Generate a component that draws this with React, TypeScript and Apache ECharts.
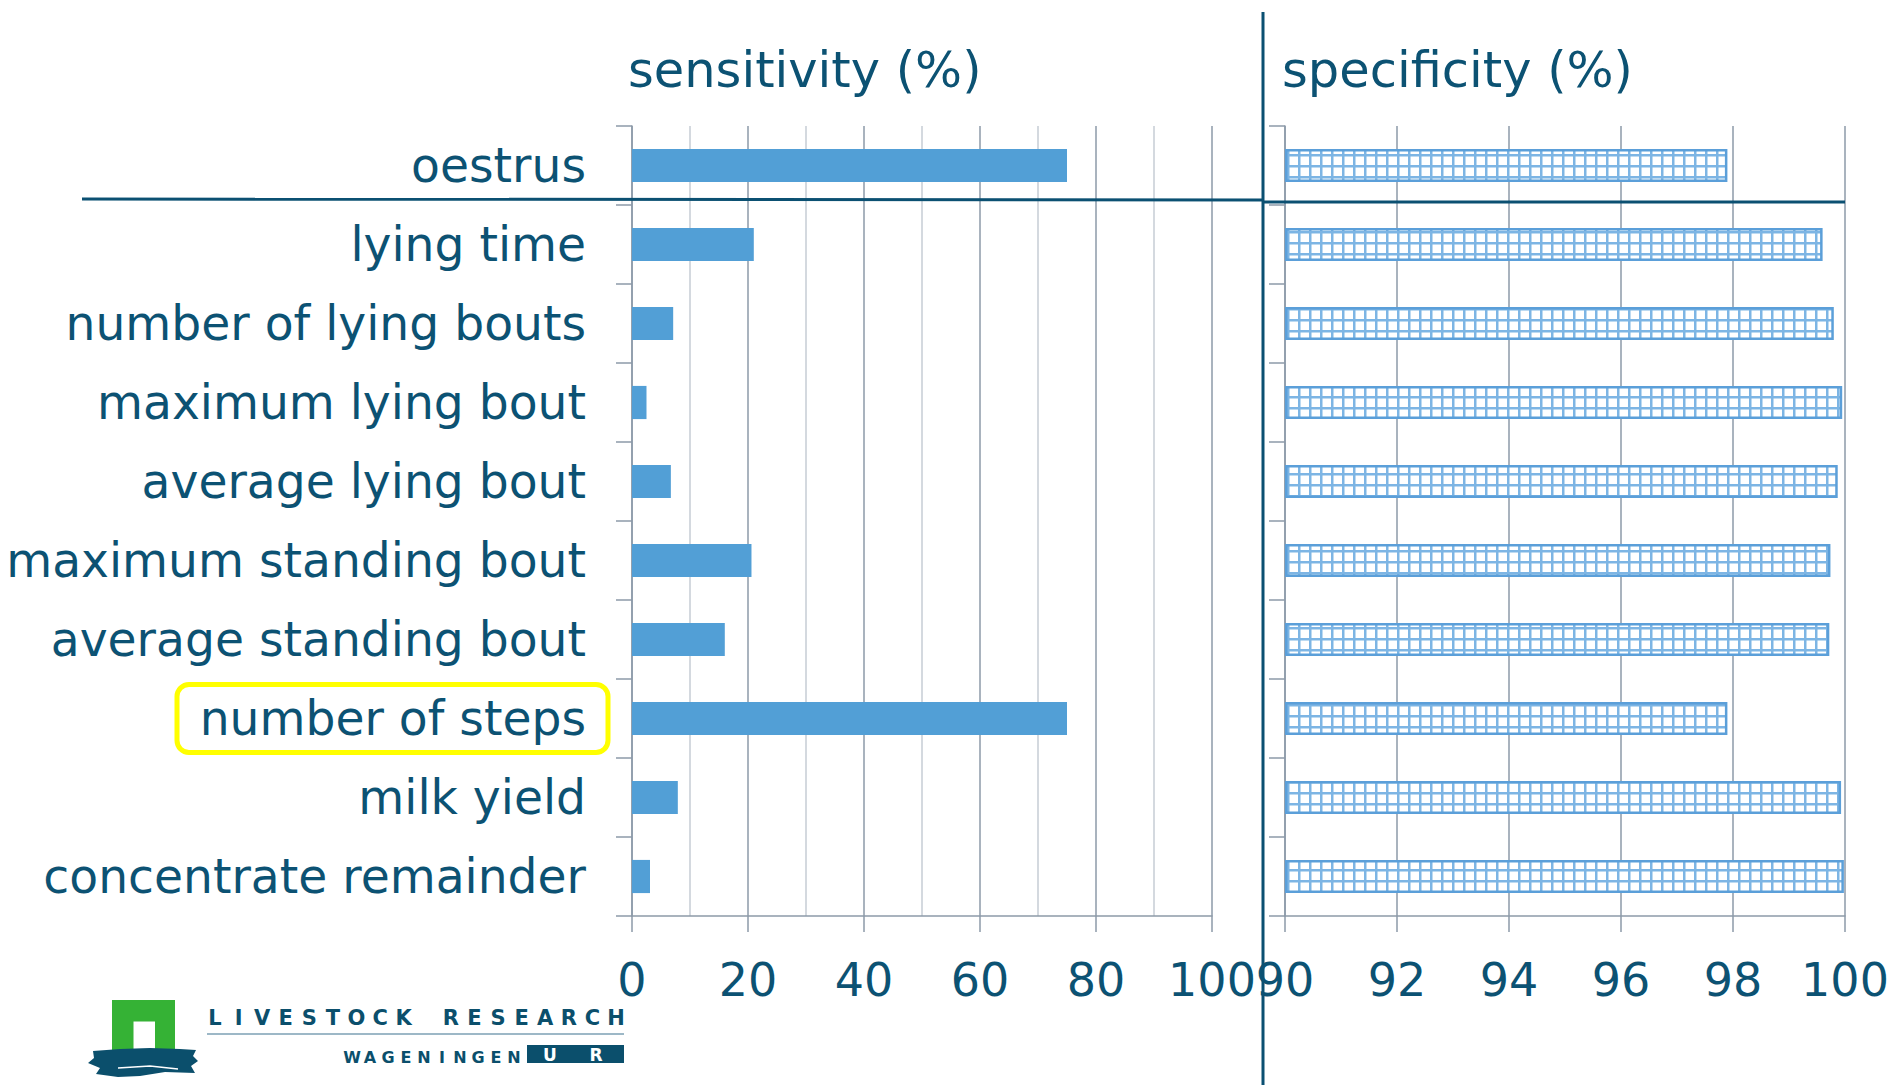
import React, { useEffect, useRef } from 'react';
import * as echarts from 'echarts';

const categories = [
  'oestrus',
  'lying time',
  'number of lying bouts',
  'maximum lying bout',
  'average lying bout',
  'maximum standing bout',
  'average standing bout',
  'number of steps',
  'milk yield',
  'concentrate remainder',
];
const sensitivity = [75, 21, 7.1, 2.5, 6.7, 20.6, 16, 75, 7.9, 3.1];
const specificity = [97.9, 99.6, 99.8, 99.95, 99.87, 99.74, 99.72, 97.9, 99.93, 99.98];
const sensitivityTicks = [0, 20, 40, 60, 80, 100];
const specificityTicks = [90, 92, 94, 96, 98, 100];
const titles = ['sensitivity (%)', 'specificity (%)'];
const highlighted = 'number of steps';

const TEXT = '#0c5273';
const GRAY = '#8d9aa8';
const LIGHT = '#c6cdd5';
const DARK = '#0b5072';
const FONT = 'DejaVu Sans';

function makePattern() {
  const c = document.createElement('canvas');
  c.width = 11;
  c.height = 11;
  const ctx = c.getContext('2d')!;
  ctx.fillStyle = '#ffffff';
  ctx.fillRect(0, 0, 11, 11);
  ctx.fillStyle = '#7db5e4';
  ctx.fillRect(0, 0, 11, 2.5);
  ctx.fillRect(0, 0, 2.5, 11);
  return c;
}

function spacedText(str: string, x0: number, x1: number, y: number, size: number, color: string, weight = 'normal') {
  const chars = str.split('');
  const n = chars.length;
  const pitch = (x1 - x0) / (n - 1);
  return chars
    .map((ch, i) => ({ ch, i }))
    .filter((o) => o.ch !== ' ')
    .map((o) => ({
      type: 'text',
      x: x0 + o.i * pitch,
      y,
      z: 20,
      style: {
        text: o.ch,
        fill: color,
        font: `${weight} ${size}px "${FONT}"`,
        textAlign: 'center',
        textVerticalAlign: 'middle',
      },
    }));
}

export default function App() {
  const ref = useRef<HTMLDivElement>(null);
  useEffect(() => {
    if (!ref.current) return;
    const chart = echarts.init(ref.current, undefined, { renderer: 'svg' });
    const sMin = sensitivityTicks[0];
    const sMax = sensitivityTicks[sensitivityTicks.length - 1];
    const sInt = sensitivityTicks[1] - sensitivityTicks[0];
    const pMin = specificityTicks[0];
    const pMax = specificityTicks[specificityTicks.length - 1];
    const pInt = specificityTicks[1] - specificityTicks[0];

    const rowH = 790 / categories.length;
    const hiIdx = categories.indexOf(highlighted);
    const hiY = 126 + rowH * (hiIdx + 0.5);

    const catAxisBase = {
      type: 'category',
      data: categories,
      inverse: true,
      axisLine: { show: true, lineStyle: { color: GRAY, width: 1.5 } },
      axisTick: { show: true, length: 16, lineStyle: { color: GRAY, width: 1.5 } },
      splitLine: { show: false },
    };
    const valAxisBase = {
      type: 'value',
      position: 'bottom',
      axisLine: { show: true, lineStyle: { color: GRAY, width: 1.5 } },
      axisTick: { show: true, length: 16, lineStyle: { color: GRAY, width: 1.5 } },
      splitLine: { show: true, lineStyle: { color: GRAY, width: 1.5 } },
    };
    const labelBase = {
      fontSize: 46,
      color: TEXT,
      fontFamily: FONT,
      margin: 41,
      showMinLabel: true,
      showMaxLabel: true,
      hideOverlap: false,
    };

    chart.setOption({
      animation: false,
      backgroundColor: '#ffffff',
      grid: [
        { left: 632, top: 126, width: 580, height: 790, outerBoundsMode: 'none', containLabel: false },
        { left: 1285, top: 126, width: 560, height: 790, outerBoundsMode: 'none', containLabel: false },
      ],
      yAxis: [
        {
          ...catAxisBase,
          gridIndex: 0,
          axisLabel: { fontSize: 47.2, color: TEXT, fontFamily: FONT, margin: 46 },
        },
        { ...catAxisBase, gridIndex: 1, axisLabel: { show: false } },
      ],
      xAxis: [
        {
          ...valAxisBase,
          gridIndex: 0,
          min: sMin,
          max: sMax,
          interval: sInt,
          minorTick: { show: false, splitNumber: 2 },
          minorSplitLine: { show: true, lineStyle: { color: LIGHT, width: 1.5 } },
          axisLabel: { ...labelBase },
        },
        {
          ...valAxisBase,
          gridIndex: 1,
          min: 0,
          max: pMax - pMin,
          interval: pInt,
          axisLabel: { ...labelBase, formatter: (v: number) => String(Math.round(v + pMin)) },
        },
      ],
      series: [
        {
          type: 'bar',
          xAxisIndex: 0,
          yAxisIndex: 0,
          data: sensitivity,
          barWidth: '42%',
          itemStyle: { color: '#529fd6' },
          z: 3,
        },
        {
          type: 'bar',
          xAxisIndex: 1,
          yAxisIndex: 1,
          data: specificity.map((v) => v - pMin),
          barWidth: '42%',
          itemStyle: {
            color: { image: makePattern(), repeat: 'repeat' },
            borderColor: '#5b9fd9',
            borderWidth: 2.5,
          },
          z: 3,
        },
      ],
      graphic: [
        {
          type: 'text',
          x: 628,
          y: 70,
          z: 20,
          style: { text: titles[0], fill: TEXT, font: `49.5px "${FONT}"`, textVerticalAlign: 'middle' },
        },
        {
          type: 'text',
          x: 1282,
          y: 70,
          z: 20,
          style: { text: titles[1], fill: TEXT, font: `49.5px "${FONT}"`, textVerticalAlign: 'middle' },
        },
        {
          type: 'line',
          z: 30,
          shape: { x1: 82, y1: 199, x2: 1263, y2: 200 },
          style: { stroke: DARK, lineWidth: 3 },
        },
        {
          type: 'line',
          z: 30,
          shape: { x1: 1263, y1: 202, x2: 1845, y2: 202 },
          style: { stroke: DARK, lineWidth: 3 },
        },
        {
          type: 'line',
          z: 30,
          shape: { x1: 1263, y1: 12, x2: 1263, y2: 1085 },
          style: { stroke: DARK, lineWidth: 3 },
        },
        {
          type: 'rect',
          z: 30,
          shape: { x: 177, y: hiY - 34, width: 431, height: 68, r: 12 },
          style: { fill: 'none', stroke: '#ffff00', lineWidth: 5 },
        },
        // logo
        {
          type: 'rect',
          z: 20,
          shape: { x: 112, y: 1000, width: 63, height: 56 },
          style: { fill: '#35b235' },
        },
        {
          type: 'rect',
          z: 21,
          shape: { x: 133.5, y: 1021.5, width: 21.5, height: 35 },
          style: { fill: '#ffffff' },
        },
        {
          type: 'polygon',
          z: 22,
          shape: {
            points: [
              [93, 1051], [120, 1049], [150, 1048], [180, 1049], [196, 1050], [193, 1056],
              [198, 1061], [191, 1066], [195, 1073], [165, 1072], [140, 1076], [118, 1077],
              [96, 1074], [100, 1068], [88, 1063], [94, 1058],
            ],
          },
          style: { fill: '#0b4f6c' },
        },
        {
          type: 'polyline',
          z: 23,
          shape: { points: [[118, 1068], [150, 1066], [178, 1069]] },
          style: { stroke: '#ffffff', lineWidth: 1.5, fill: 'none' },
        },
        ...spacedText('LIVESTOCK RESEARCH', 215, 616, 1018, 21, '#0b4f6c', 'bold'),
        {
          type: 'line',
          z: 20,
          shape: { x1: 207, y1: 1034, x2: 624, y2: 1034 },
          style: { stroke: '#3d7390', lineWidth: 1.2 },
        },
        ...spacedText('WAGENINGEN', 352, 514, 1057, 16, '#0b4f6c', 'bold'),
        {
          type: 'rect',
          z: 20,
          shape: { x: 527, y: 1045, width: 97, height: 18 },
          style: { fill: '#0b4f6c' },
        },
        ...spacedText('UR', 550, 596, 1054.5, 17, '#ffffff', 'bold'),
      ],
    });
    return () => chart.dispose();
  }, []);
  return (
    <div
      ref={ref}
      style={{ position: 'fixed', left: 0, top: 0, width: 1895, height: 1085, background: '#fff' }}
    />
  );
}
